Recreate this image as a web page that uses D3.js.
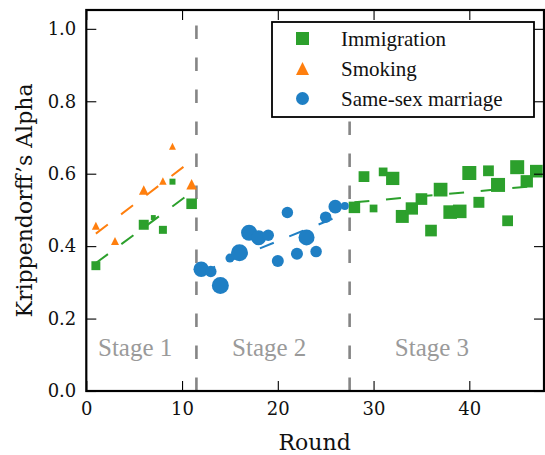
<!DOCTYPE html>
<html><head><meta charset="utf-8">
<script src="https://cdn.jsdelivr.net/npm/d3@7"></script>
<style>
body{margin:0;background:#fff}
svg{display:block}
svg text{font-family:"DejaVu Serif",serif !important;fill:#111}
svg text.tx{font-family:"Liberation Serif",serif !important}
svg text.stage{fill:#9a9a9a}
</style>
</head><body>
<svg id="chart" width="545" height="455"></svg>
<script>
// ---------------- data ----------------
const topics = ["Immigration", "Smoking", "Same-sex marriage"];

const immigrationRounds = [1, 6, 7, 8, 9, 11, 28, 29, 30, 31, 32, 33, 34, 35, 36, 37, 38, 39, 40, 41, 42, 43, 44, 45, 46, 47];
const immigrationAlpha  = [0.346, 0.459, 0.479, 0.445, 0.578, 0.517, 0.507, 0.592, 0.504, 0.605, 0.587, 0.482, 0.504, 0.530, 0.443, 0.556, 0.494, 0.496, 0.602, 0.521, 0.608, 0.569, 0.470, 0.618, 0.579, 0.607];
const immigrationWeight = [20, 25, 6, 16, 9, 28, 33, 29, 15, 19, 44, 42, 38, 34, 34, 47, 46, 46, 49, 30, 29, 49, 29, 49, 38, 40];

const smokingRounds = [1, 3, 6, 8, 9, 11];
const smokingAlpha  = [0.456, 0.414, 0.555, 0.580, 0.676, 0.571];
const smokingWeight = [16, 16, 23, 14, 12, 28];

const marriageRounds = [12, 13, 14, 15, 16, 17, 18, 19, 20, 21, 22, 23, 24, 25, 26, 27];
const marriageAlpha  = [0.336, 0.330, 0.291, 0.367, 0.382, 0.437, 0.423, 0.430, 0.359, 0.493, 0.379, 0.424, 0.385, 0.480, 0.509, 0.511];
const marriageWeight = [60, 33, 72, 20, 72, 64, 56, 33, 36, 33, 36, 64, 33, 33, 46, 16];

const stageBounds = [11.5, 27.5];
const stageLabels = ["Stage 1", "Stage 2", "Stage 3"];
const stageLabelX = [5.1, 19.1, 36.1];
const stageLabelY = 0.098;

const xTicks = [0, 10, 20, 30, 40];
const yTicks = [0.0, 0.2, 0.4, 0.6, 0.8, 1.0];

// ---------------- setup ----------------
const L = 86.3, R = 544, T = 10, B = 391;
const svg = d3.select("#chart");
const x = d3.scaleLinear().domain([0, 47.8]).range([L, R]);
const y = d3.scaleLinear().domain([0, 1.052]).range([B, T]);
const size = d3.scaleSqrt().domain([0, 100]).range([0, 20]);

const colors = {"Immigration": "#2ca02c", "Smoking": "#ff7f0e", "Same-sex marriage": "#1f7fc4"};
const shapes = {"Immigration": "square", "Smoking": "triangle", "Same-sex marriage": "circle"};

const series = [
  {name: "Immigration", rounds: immigrationRounds, alpha: immigrationAlpha, weight: immigrationWeight},
  {name: "Smoking", rounds: smokingRounds, alpha: smokingAlpha, weight: smokingWeight},
  {name: "Same-sex marriage", rounds: marriageRounds, alpha: marriageAlpha, weight: marriageWeight}
];

function stageOf(r) { return r < stageBounds[0] ? 0 : (r < stageBounds[1] ? 1 : 2); }

function markerPath(shape, d) {
  if (shape === "square") return `M${-d/2},${-d/2}h${d}v${d}h${-d}Z`;
  if (shape === "triangle") return `M0,${-d/2}L${d/2},${d/2}L${-d/2},${d/2}Z`;
  const r = d / 2;
  return `M${r},0A${r},${r} 0 1,1 ${-r},0A${r},${r} 0 1,1 ${r},0Z`;
}

// ---------------- stage separators ----------------
stageBounds.forEach(b => {
  svg.append("line")
    .attr("x1", x(b)).attr("x2", x(b))
    .attr("y1", B).attr("y2", T)
    .attr("stroke", "#858585").attr("stroke-width", 2.6)
    .attr("stroke-dasharray", "13.5,18.5");
});

svg.selectAll("text.stage").data(stageLabels).join("text")
  .attr("class", "tx stage")
  .attr("x", (d, i) => x(stageLabelX[i])).attr("y", y(stageLabelY))
  .attr("text-anchor", "middle")
  .attr("font-size", 25)
  .text(d => d);

// ---------------- regression lines (per topic, per stage) ----------------
series.forEach(s => {
  const groups = d3.groups(s.rounds.map((r, i) => ({r, a: s.alpha[i]})), d => stageOf(d.r));
  groups.forEach(([st, pts]) => {
    if (pts.length < 2) return;
    const mx = d3.mean(pts, p => p.r), my = d3.mean(pts, p => p.a);
    const sxy = d3.sum(pts, p => (p.r - mx) * (p.a - my));
    const sxx = d3.sum(pts, p => (p.r - mx) ** 2);
    const k = sxy / sxx, c = my - k * mx;
    const x0 = d3.min(pts, p => p.r), x1 = d3.max(pts, p => p.r);
    svg.append("line")
      .attr("x1", x(x0)).attr("y1", y(c + k * x0))
      .attr("x2", x(x1)).attr("y2", y(c + k * x1))
      .attr("stroke", colors[s.name]).attr("stroke-width", 2)
      .attr("stroke-dasharray", "15,16.7");
  });
});

// ---------------- markers ----------------
series.forEach(s => {
  svg.append("g").selectAll("path")
    .data(s.rounds.map((r, i) => ({r, a: s.alpha[i], w: s.weight[i]})))
    .join("path")
    .attr("transform", d => `translate(${x(d.r)},${y(d.a)})`)
    .attr("d", d => markerPath(shapes[s.name], size(d.w)))
    .attr("fill", colors[s.name]);
});

// ---------------- axes ----------------
const axB = svg.append("g").attr("transform", `translate(0,${B})`)
  .call(d3.axisBottom(x).tickValues(xTicks).tickSize(-10).tickPadding(11).tickFormat(d3.format("d")));
const axL = svg.append("g").attr("transform", `translate(${L},0)`)
  .call(d3.axisLeft(y).tickValues(yTicks).tickSize(-10).tickPadding(10).tickFormat(d3.format(".1f")));
const axT = svg.append("g").attr("transform", `translate(0,${T})`)
  .call(d3.axisTop(x).tickValues(xTicks).tickSize(-10).tickFormat(""));
const axR = svg.append("g").attr("transform", `translate(${R},0)`)
  .call(d3.axisRight(y).tickValues(yTicks).tickSize(-10).tickFormat(""));
[axB, axL, axT, axR].forEach(a => {
  a.attr("font-family", null).attr("font-size", 18);
  a.select(".domain").remove();
  a.selectAll("line").attr("stroke", "#000").attr("stroke-width", 1.1);
  a.selectAll("text").attr("fill", null);
});

svg.append("rect").attr("x", L).attr("y", T).attr("width", R - L).attr("height", B - T)
  .attr("fill", "none").attr("stroke", "#000").attr("stroke-width", 2.2);

svg.append("text").attr("x", (L + R) / 2 - 0.5).attr("y", 450)
  .attr("text-anchor", "middle").attr("font-size", 22).text("Round");
svg.append("text").attr("transform", `translate(32,${(T + B) / 2}) rotate(-90)`)
  .attr("text-anchor", "middle").attr("font-size", 22).text("Krippendorff\u2019s Alpha");

// ---------------- legend ----------------
const lg = svg.append("g");
lg.append("rect").attr("x", 272).attr("y", 22).attr("width", 262).attr("height", 95)
  .attr("fill", "#fff").attr("stroke", "#000").attr("stroke-width", 1.8);
topics.forEach((t, i) => {
  const cy = 38.5 + i * 30;
  lg.append("path").attr("transform", `translate(302.5,${cy})`)
    .attr("d", markerPath(shapes[t], 13)).attr("fill", colors[t]);
  lg.append("text").attr("class", "tx").attr("x", 341).attr("y", cy + 7)
    .attr("font-size", 21).text(t);
});
</script>
</body></html>
